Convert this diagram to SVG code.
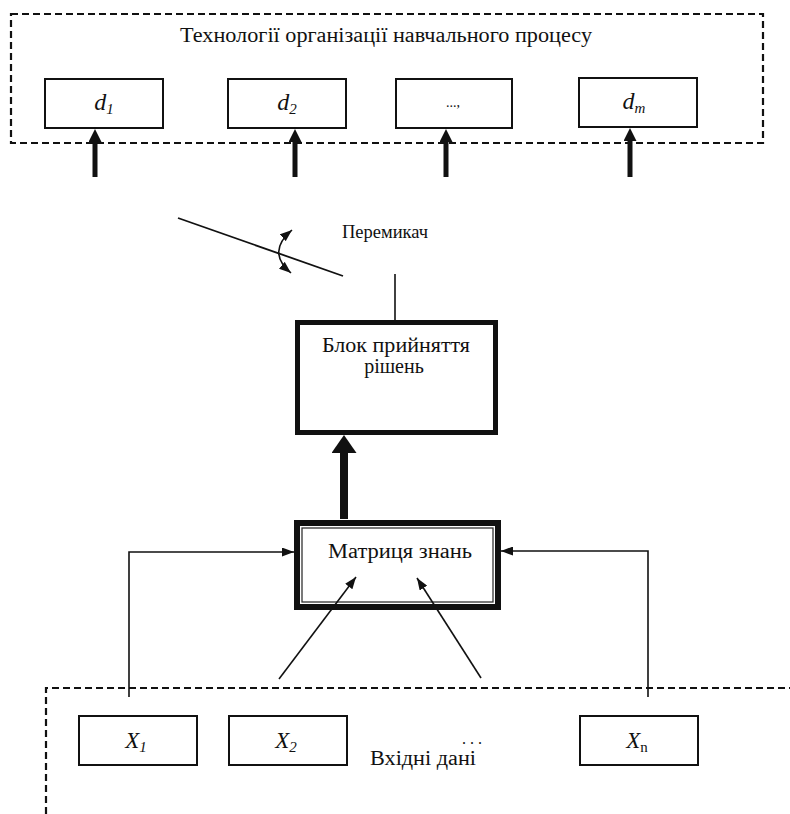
<svg xmlns="http://www.w3.org/2000/svg" width="790" height="814" viewBox="0 0 790 814">
<style>
  .bg { fill: #ffffff; }
  .dash { fill: none; stroke: #111; stroke-width: 2.2; stroke-dasharray: 7 4; }
  .box { fill: #fff; stroke: #111; stroke-width: 2; }
  .thin { fill: none; stroke: #111; stroke-width: 1.6; }
  .txt { font-family: "Liberation Serif", "Times New Roman", serif; fill: #111; }
  .it { font-style: italic; }
</style>
<defs>
  <marker id="headThin" markerUnits="userSpaceOnUse" markerWidth="12" markerHeight="9" refX="12" refY="4.5" orient="auto">
    <path d="M0,0 L12,4.5 L0,9 z" fill="#111"/>
  </marker>
  <marker id="headThinS" markerUnits="userSpaceOnUse" markerWidth="12" markerHeight="9" refX="12" refY="4.5" orient="auto-start-reverse">
    <path d="M0,0 L12,4.5 L0,9 z" fill="#111"/>
  </marker>
  <marker id="headMid" markerUnits="userSpaceOnUse" markerWidth="13" markerHeight="13" refX="3" refY="6.5" orient="auto">
    <path d="M0,0 L13,6.5 L0,13 z" fill="#111"/>
  </marker>
  <marker id="headBig" markerUnits="userSpaceOnUse" markerWidth="18" markerHeight="25" refX="4" refY="12.5" orient="auto">
    <path d="M0,0 L18,12.5 L0,25 z" fill="#111"/>
  </marker>
</defs>
<rect class="bg" x="0" y="0" width="790" height="814"/>

<g id="top-group">
  <rect class="dash" x="11" y="14" width="752" height="129"/>
  <text class="txt" x="386" y="42" font-size="20" text-anchor="middle" textLength="412" lengthAdjust="spacingAndGlyphs">Технології організації навчального процесу</text>
</g>

<g id="node-d1">
  <rect class="box" x="45" y="79" width="118" height="49"/>
  <text class="txt it" x="104" y="110" font-size="24" text-anchor="middle">d<tspan font-size="15" dy="4">1</tspan></text>
</g>
<g id="node-d2">
  <rect class="box" x="228" y="79" width="118" height="49"/>
  <text class="txt it" x="287" y="110" font-size="24" text-anchor="middle">d<tspan font-size="15" dy="4">2</tspan></text>
</g>
<g id="node-dots">
  <rect class="box" x="396" y="79" width="116" height="49"/>
  <text class="txt" x="453" y="107" font-size="14" text-anchor="middle">...,</text>
</g>
<g id="node-dm">
  <rect class="box" x="579" y="78" width="118" height="49"/>
  <text class="txt it" x="634" y="109" font-size="24" text-anchor="middle">d<tspan font-size="15" dy="4">m</tspan></text>
</g>

<g id="node-switch">
  <line x1="178" y1="218" x2="343" y2="276" stroke="#111" stroke-width="1.8"/>
  <path d="M292,230 Q266,252 291,273" class="thin" marker-start="url(#headThinS)" marker-end="url(#headThin)"/>
  <text class="txt" x="342" y="238" font-size="19" textLength="86" lengthAdjust="spacingAndGlyphs">Перемикач</text>
</g>

<g id="node-decision">
  <rect x="297.5" y="322.5" width="198" height="110" fill="#fff" stroke="#111" stroke-width="5"/>
  <text class="txt" x="396" y="352" font-size="20" text-anchor="middle" textLength="148" lengthAdjust="spacingAndGlyphs">Блок прийняття</text>
  <text class="txt" x="394" y="373" font-size="20" text-anchor="middle">рішень</text>
</g>

<g id="node-matrix">
  <rect x="297" y="523" width="201" height="84" fill="#fff" stroke="#111" stroke-width="6"/>
  <rect x="302" y="528" width="191" height="74" fill="none" stroke="#333" stroke-width="1.3"/>
  <text class="txt" x="400" y="558" font-size="20" text-anchor="middle" textLength="144" lengthAdjust="spacingAndGlyphs">Матриця знань</text>
</g>

<g id="bottom-group">
  <path class="dash" d="M46,814 L46,688 L790,688"/>
  <text class="txt" x="423" y="765" font-size="20" text-anchor="middle" textLength="106" lengthAdjust="spacingAndGlyphs">Вхідні дані</text>
  <text class="txt" x="472" y="744" font-size="16" text-anchor="middle">. . .</text>
</g>

<g id="node-x1">
  <rect class="box" x="79" y="716" width="118" height="49"/>
  <text class="txt it" x="136" y="748" font-size="23" text-anchor="middle">X<tspan font-size="15" dy="4">1</tspan></text>
</g>
<g id="node-x2">
  <rect class="box" x="229" y="716" width="118" height="49"/>
  <text class="txt it" x="286" y="748" font-size="23" text-anchor="middle">X<tspan font-size="15" dy="4">2</tspan></text>
</g>
<g id="node-xn">
  <rect class="box" x="580" y="716" width="118" height="49"/>
  <text class="txt it" x="637" y="748" font-size="23" text-anchor="middle">X<tspan font-size="15" dy="4" font-style="normal">n</tspan></text>
</g>

<g id="connectors">
  <line x1="95" y1="177" x2="95" y2="139" stroke="#111" stroke-width="5" marker-end="url(#headMid)"/>
  <line x1="295" y1="177" x2="295" y2="139" stroke="#111" stroke-width="5" marker-end="url(#headMid)"/>
  <line x1="446" y1="177" x2="446" y2="139" stroke="#111" stroke-width="5" marker-end="url(#headMid)"/>
  <line x1="630" y1="177" x2="630" y2="138" stroke="#111" stroke-width="5" marker-end="url(#headMid)"/>
  <line x1="395" y1="274" x2="395" y2="320" stroke="#111" stroke-width="1.6"/>
  <line x1="344" y1="519" x2="344" y2="449" stroke="#111" stroke-width="8" marker-end="url(#headBig)"/>
  <path class="thin" d="M129,697 L129,552 L294,552" marker-end="url(#headThin)"/>
  <path class="thin" d="M648,697 L648,551 L501,551" marker-end="url(#headThin)"/>
  <line class="thin" x1="279" y1="679" x2="356" y2="577" marker-end="url(#headThin)"/>
  <line class="thin" x1="481" y1="678" x2="417" y2="578" marker-end="url(#headThin)"/>
</g>
</svg>
